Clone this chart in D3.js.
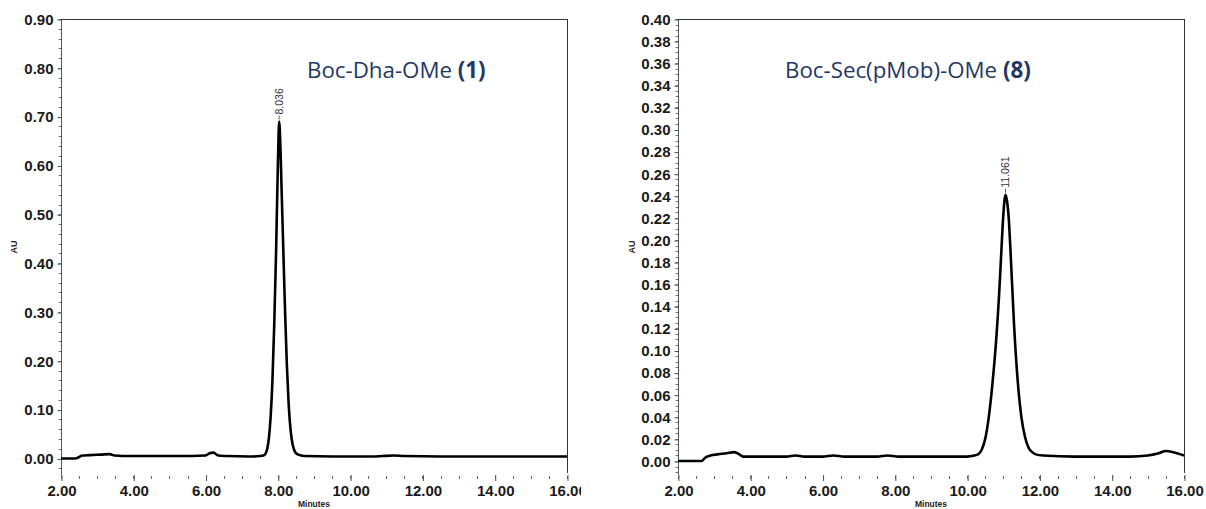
<!DOCTYPE html>
<html>
<head>
<meta charset="utf-8">
<script src="https://cdn.jsdelivr.net/npm/d3@7/dist/d3.min.js"></script>
<style>
  html, body { margin: 0; padding: 0; background: #fff; }
  svg { display: block; }
  .tick text { font-family: "Liberation Sans", Arial, sans-serif; font-weight: bold; }
</style>
</head>
<body>
<svg id="chart" width="1206" height="509"></svg>
<script>
// ---- Chromatogram 1: Boc-Dha-OMe (1) ----
const dhaTime = [2.00, 2.40, 2.48, 2.58, 2.80, 3.10, 3.35, 3.48, 3.70, 4.20, 5.00, 5.60, 6.00, 6.12, 6.22, 6.35, 6.60, 7.20, 7.50,
  7.60, 7.65, 7.70, 7.75, 7.80, 7.85, 7.90, 7.95, 8.00, 8.036, 8.07, 8.10, 8.15, 8.20, 8.25, 8.30, 8.35, 8.40, 8.45, 8.50, 8.60, 8.75,
  9.50, 10.60, 10.90, 11.20, 11.50, 12.50, 14.00, 16.00];
const dhaAU = [0.000, 0.000, 0.002, 0.006, 0.007, 0.008, 0.009, 0.006, 0.005, 0.005, 0.005, 0.005, 0.006, 0.011, 0.012, 0.006, 0.005, 0.004, 0.005,
  0.006, 0.009, 0.018, 0.040, 0.085, 0.160, 0.275, 0.420, 0.600, 0.690, 0.640, 0.560, 0.430, 0.300, 0.190, 0.110, 0.060, 0.032, 0.018, 0.011, 0.007, 0.005,
  0.004, 0.004, 0.005, 0.006, 0.005, 0.004, 0.004, 0.004];
const dhaPeak = { time: 8.036, au: 0.690, label: "8.036" };
const dhaTitle = "Boc-Dha-OMe";
const dhaNumber = "(1)";
const dhaYTicks = [0.00, 0.10, 0.20, 0.30, 0.40, 0.50, 0.60, 0.70, 0.80, 0.90];

// ---- Chromatogram 2: Boc-Sec(pMob)-OMe (8) ----
const secTime = [2.00, 2.65, 2.75, 2.90, 3.10, 3.35, 3.55, 3.65, 3.80, 4.20, 5.00, 5.25, 5.50, 6.00, 6.30, 6.60, 7.50, 7.80, 8.10, 9.00, 10.00, 10.20,
  10.30, 10.40, 10.50, 10.60, 10.70, 10.80, 10.90, 10.95, 11.00, 11.061, 11.10, 11.15, 11.20, 11.30, 11.40, 11.50, 11.60, 11.70, 11.80, 11.90, 12.10,
  13.00, 14.50, 15.00, 15.30, 15.50, 15.70, 16.00];
const secAU = [0.000, 0.000, 0.003, 0.005, 0.006, 0.007, 0.008, 0.007, 0.004, 0.004, 0.004, 0.005, 0.004, 0.004, 0.005, 0.004, 0.004, 0.005, 0.004, 0.004, 0.004, 0.005,
  0.006, 0.010, 0.020, 0.040, 0.070, 0.108, 0.160, 0.192, 0.222, 0.241, 0.236, 0.220, 0.190, 0.122, 0.072, 0.040, 0.022, 0.012, 0.008, 0.006, 0.005,
  0.004, 0.004, 0.005, 0.007, 0.009, 0.008, 0.005];
const secPeak = { time: 11.061, au: 0.241, label: "11.061" };
const secTitle = "Boc-Sec(pMob)-OMe";
const secNumber = "(8)";
const secYTicks = [0.00, 0.02, 0.04, 0.06, 0.08, 0.10, 0.12, 0.14, 0.16, 0.18, 0.20, 0.22, 0.24, 0.26, 0.28, 0.30, 0.32, 0.34, 0.36, 0.38, 0.40];

// ---- shared axis ticks ----
const xTicks = [2.00, 4.00, 6.00, 8.00, 10.00, 12.00, 14.00, 16.00];
const xLabel = "Minutes";
const yLabel = "AU";

const svg = d3.select("#chart");
const titleColor = "#1f3864";

function drawPanel(cfg) {
  const g = svg.append("g");
  const clipId = "clip-" + cfg.id;
  svg.append("clipPath").attr("id", clipId)
    .append("rect").attr("x", cfg.clipX0).attr("y", 0).attr("width", cfg.clipX1 - cfg.clipX0).attr("height", 509);
  g.attr("clip-path", `url(#${clipId})`);

  const x = d3.scaleLinear().domain([2, 16]).range([cfg.left, cfg.right]);
  const y = d3.scaleLinear().domain([0, cfg.yMax]).range([cfg.zeroY, cfg.top]);
  const bottom = cfg.bottom;

  // minor ticks on the y axis
  const yMinor = d3.range(Math.ceil(y.invert(bottom) / cfg.yMinorStep) * cfg.yMinorStep, cfg.yMax + 1e-9, cfg.yMinorStep);
  g.append("g").selectAll("line").data(yMinor).join("line")
    .attr("x1", cfg.left - 2.5).attr("x2", cfg.left)
    .attr("y1", d => Math.round(y(d)) + 0.5).attr("y2", d => Math.round(y(d)) + 0.5)
    .attr("stroke", "#777").attr("stroke-width", 1);

  // y axis with major ticks
  const yAxis = d3.axisLeft(y).tickValues(cfg.yTicks).tickFormat(d3.format(".2f"))
    .tickSize(4).tickPadding(4);
  const ya = g.append("g").attr("transform", `translate(${cfg.left + 0.5},0.5)`).call(yAxis);
  ya.select(".domain").remove();
  ya.selectAll(".tick line").attr("stroke", "#555");
  ya.selectAll(".tick text").attr("font-size", 15).attr("fill", "#1a1a1a");
  g.append("line").attr("x1", cfg.left + 0.5).attr("x2", cfg.left + 0.5)
    .attr("y1", cfg.top).attr("y2", bottom).attr("stroke", "#555");

  // frame: top and right edges
  g.append("line").attr("x1", cfg.left).attr("x2", cfg.right + 0.5)
    .attr("y1", cfg.top + 0.5).attr("y2", cfg.top + 0.5).attr("stroke", "#333");
  g.append("line").attr("x1", cfg.right + 0.5).attr("x2", cfg.right + 0.5)
    .attr("y1", cfg.top).attr("y2", bottom - 2).attr("stroke", "#333");

  // x axis: minor ticks every 0.5 min, labelled majors every 2 min
  const xMinor = d3.range(2, 16.001, 0.5);
  g.append("g").selectAll("line").data(xMinor).join("line")
    .attr("x1", d => Math.round(x(d)) + 0.5).attr("x2", d => Math.round(x(d)) + 0.5)
    .attr("y1", bottom + 1).attr("y2", bottom + 4)
    .attr("stroke", "#666");
  const xAxis = d3.axisBottom(x).tickValues(xTicks).tickFormat(d3.format(".2f"))
    .tickSize(6).tickPadding(4);
  const xa = g.append("g").attr("transform", `translate(0.5,${bottom})`).call(xAxis);
  xa.select(".domain").remove();
  xa.selectAll(".tick line").attr("stroke", "#555");
  xa.selectAll(".tick text").attr("font-size", 15).attr("fill", "#1a1a1a");

  // axis titles
  g.append("text").text(xLabel)
    .attr("x", (cfg.left + cfg.right) / 2).attr("y", 507)
    .attr("text-anchor", "middle").attr("font-family", "Liberation Sans, Arial, sans-serif")
    .attr("font-weight", "bold").attr("font-size", 8.5).attr("fill", "#222");
  g.append("text").text(yLabel)
    .attr("transform", `translate(${cfg.yLabelX},${(cfg.top + bottom) / 2}) rotate(-90)`)
    .attr("text-anchor", "middle").attr("font-family", "Liberation Sans, Arial, sans-serif")
    .attr("font-weight", "bold").attr("font-size", 9).attr("fill", "#222");

  // trace
  const pts = cfg.time.map((t, i) => [t, cfg.au[i]]);
  const line = d3.line().x(d => x(d[0])).y(d => y(d[1])).curve(d3.curveMonotoneX);
  g.append("path").datum(pts).attr("d", line)
    .attr("fill", "none").attr("stroke", "#000").attr("stroke-width", 2.6)
    .attr("stroke-linejoin", "round");

  // retention time label above the apex
  const px = x(cfg.peak.time), py = y(cfg.peak.au);
  g.append("line").attr("x1", px).attr("x2", px).attr("y1", py - 2).attr("y2", py - 6)
    .attr("stroke", "#333").attr("stroke-width", 0.8);
  g.append("text").text(cfg.peak.label)
    .attr("transform", `translate(${px + 3.8},${py - 7}) rotate(-90)`)
    .attr("font-family", "Liberation Sans, Arial, sans-serif")
    .attr("font-size", 10.5).attr("fill", "#333");

  // compound name
  const t = g.append("text").attr("x", cfg.titleX).attr("y", 78)
    .attr("font-family", "Open Sans, sans-serif").attr("font-size", 22.3).attr("fill", titleColor);
  t.append("tspan").text(cfg.title + " ");
  t.append("tspan").attr("font-weight", "bold").text(cfg.number);
}

drawPanel({
  id: "dha", time: dhaTime, au: dhaAU, peak: dhaPeak, title: dhaTitle, number: dhaNumber,
  yTicks: dhaYTicks, yMax: 0.90, yMinorStep: 0.02,
  left: 61, right: 567, top: 19, zeroY: 458.5, bottom: 475,
  yLabelX: 17, titleX: 307, clipX0: 0, clipX1: 581
});

drawPanel({
  id: "sec", time: secTime, au: secAU, peak: secPeak, title: secTitle, number: secNumber,
  yTicks: secYTicks, yMax: 0.40, yMinorStep: 0.005,
  left: 678, right: 1184, top: 19, zeroY: 461, bottom: 475,
  yLabelX: 635, titleX: 785, clipX0: 581, clipX1: 1206
});
</script>
</body>
</html>
